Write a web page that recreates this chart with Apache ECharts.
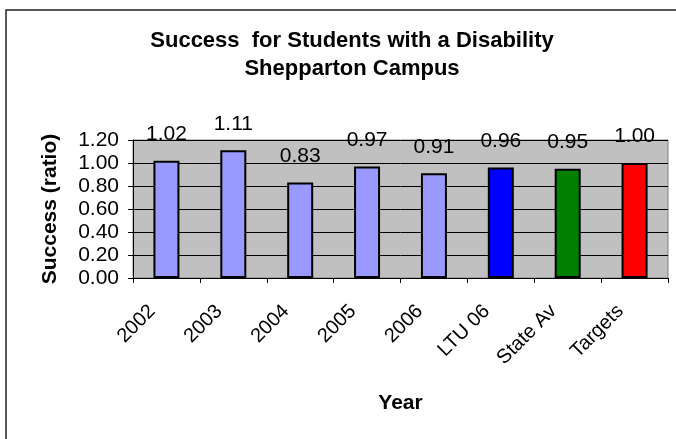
<!DOCTYPE html>
<html>
<head>
<meta charset="utf-8">
<script src="https://cdn.jsdelivr.net/npm/echarts@6/dist/echarts.min.js"></script>
<style>
html,body{margin:0;padding:0;background:#fff;}
#chart{width:676px;height:439px;}
</style>
</head>
<body>
<div id="chart"></div>
<script>
const categories = ['2002', '2003', '2004', '2005', '2006', 'LTU 06', 'State Av', 'Targets'];
const successValues = [1.02, 1.11, 0.83, 0.97, 0.91, 0.96, 0.95, 1.00];
const yTicks = [0, 0.2, 0.4, 0.6, 0.8, 1.0, 1.2];
const barColors = ['#9999FF', '#9999FF', '#9999FF', '#9999FF', '#9999FF', '#0000FF', '#008000', '#FF0000'];

const FONT = '"Liberation Sans", Arial, sans-serif';
const chart = echarts.init(document.getElementById('chart'), null, {renderer: 'canvas'});
chart.setOption({
  animation: false,
  backgroundColor: '#ffffff',
  textStyle: {fontFamily: FONT, color: '#000'},
  title: {
    text: 'Success  for Students with a Disability\nShepparton Campus',
    left: 347,
    top: 22,
    textAlign: 'center',
    textStyle: {fontFamily: FONT, fontSize: 22, fontWeight: 'bold', color: '#000', lineHeight: 28}
  },
  graphic: [{
    type: 'rect',
    shape: {x: 6, y: 10, width: 720, height: 520},
    style: {fill: 'none', stroke: '#222', lineWidth: 1.5},
    silent: true
  }],
  grid: {
    left: 133, right: 8, top: 140, bottom: 161,
    show: true, backgroundColor: '#C0C0C0', borderColor: '#808080', borderWidth: 1
  },
  xAxis: {
    type: 'category',
    data: categories,
    name: 'Year',
    nameLocation: 'middle',
    nameGap: 115,
    nameTextStyle: {fontFamily: FONT, fontSize: 21, fontWeight: 'bold', color: '#000'},
    axisLine: {lineStyle: {color: '#000', width: 1}},
    axisTick: {show: true, length: 5, lineStyle: {color: '#000'}},
    axisLabel: {rotate: 45, fontSize: 20, color: '#000', margin: 16, padding: [0, 20, 0, 0], interval: 0, fontFamily: FONT}
  },
  yAxis: {
    type: 'value',
    min: 0, max: 1.2, interval: 0.2,
    name: 'Success (ratio)',
    nameLocation: 'middle',
    nameGap: 72,
    nameRotate: 90,
    nameTextStyle: {fontFamily: FONT, fontSize: 21, fontWeight: 'bold', color: '#000'},
    axisLine: {show: true, lineStyle: {color: '#000', width: 1}},
    axisTick: {show: true, length: 5, lineStyle: {color: '#000'}},
    axisLabel: {fontSize: 21, color: '#000', margin: 14, fontFamily: FONT,
      customValues: yTicks,
      formatter: v => v.toFixed(2)},
    splitLine: {lineStyle: {color: '#000', width: 1}}
  },
  series: [{
    type: 'bar',
    barWidth: 26,
    data: successValues.map((v, i) => ({value: v, itemStyle: {color: barColors[i]}})),
    itemStyle: {borderColor: '#000', borderWidth: 2},
    label: {show: true, position: 'top', distance: 16, fontSize: 21, color: '#000', fontFamily: FONT,
      formatter: p => p.value.toFixed(2)}
  }]
});
</script>
</body>
</html>
